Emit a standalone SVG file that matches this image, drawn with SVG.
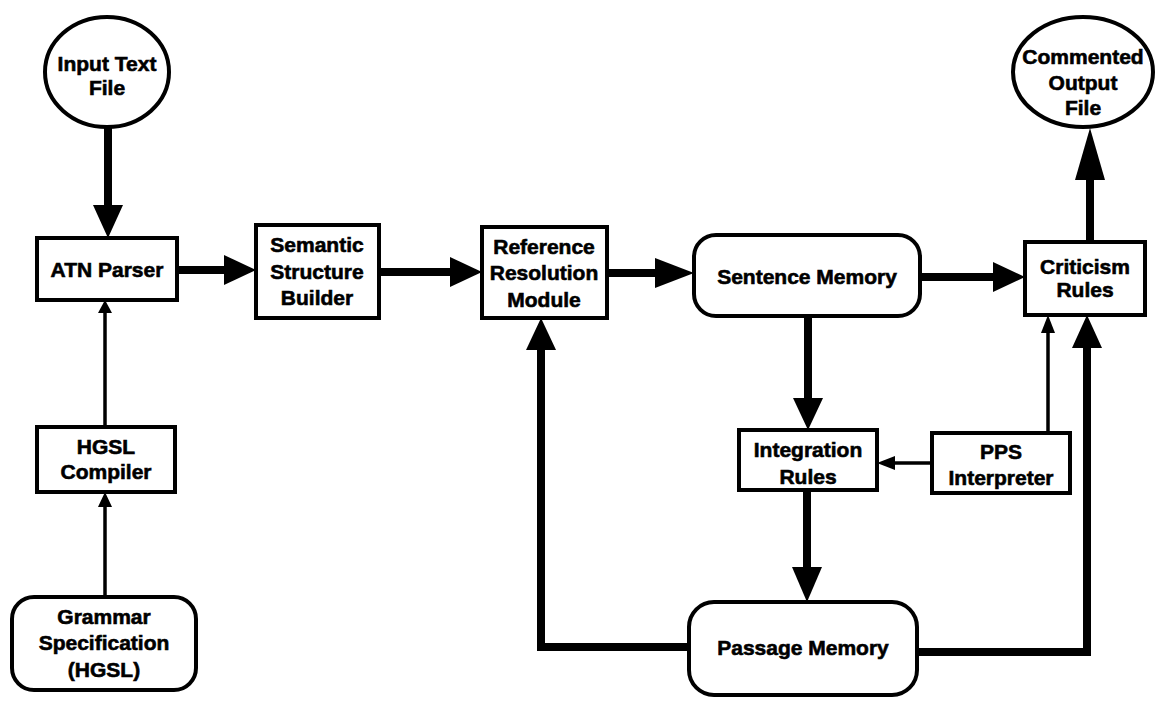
<svg xmlns="http://www.w3.org/2000/svg" width="1171" height="701" viewBox="0 0 1171 701">
<style>
.n{fill:#fff;stroke:#000;stroke-width:4}
.t{font-family:"Liberation Sans",Arial,sans-serif;font-weight:bold;font-size:21px;fill:#000;stroke:#000;stroke-width:0.6;text-anchor:middle}
.k{fill:none;stroke:#000;stroke-width:8}
.s{fill:none;stroke:#000;stroke-width:3.5}
.h{fill:#000;stroke:none}
</style>
<rect width="1171" height="701" fill="#fff"/>
<g id="connectors">
<line class="k" x1="108" y1="127" x2="108" y2="208"/>
<polygon class="h" points="93,205 123,205 108,238"/>
<line class="k" x1="177" y1="270" x2="228" y2="270"/>
<polygon class="h" points="224,255 224,285 256,270"/>
<line class="k" x1="379" y1="272" x2="453" y2="272"/>
<polygon class="h" points="450,257 450,287 482,272"/>
<line class="k" x1="607" y1="273" x2="658" y2="273"/>
<polygon class="h" points="655,258 655,288 694,273"/>
<line class="k" x1="920" y1="277" x2="996" y2="277"/>
<polygon class="h" points="993,262 993,292 1025,277"/>
<line class="k" x1="1090" y1="242" x2="1090" y2="176"/>
<polygon class="h" points="1075,180 1105,180 1090,128"/>
<line class="k" x1="808" y1="316" x2="808" y2="401"/>
<polygon class="h" points="793,398 823,398 808,430"/>
<line class="k" x1="807" y1="490" x2="807" y2="570"/>
<polygon class="h" points="792,567 822,567 807,602"/>
<polyline class="k" points="689,647 541,647 541,347"/>
<polygon class="h" points="526,350 556,350 541,318"/>
<polyline class="k" points="917,652 1087,652 1087,345"/>
<polygon class="h" points="1072,348 1102,348 1087,315"/>
<line class="s" x1="1048" y1="433" x2="1048" y2="330"/>
<polygon class="h" points="1041,333 1055,333 1048,315"/>
<line class="s" x1="932" y1="463" x2="892" y2="463"/>
<polygon class="h" points="895,456 895,470 877,463"/>
<line class="s" x1="105" y1="427" x2="105" y2="310"/>
<polygon class="h" points="98,313 112,313 105,300"/>
<line class="s" x1="105" y1="597" x2="105" y2="505"/>
<polygon class="h" points="98,507 112,507 105,492"/>
</g>
<g id="input-text-file">
<ellipse class="n" cx="107" cy="72" rx="62" ry="55"/>
<text class="t" x="107" y="71">Input Text</text>
<text class="t" x="107" y="95">File</text>
</g>
<g id="atn-parser">
<rect class="n" x="37" y="238" width="140" height="62"/>
<text class="t" x="107" y="277">ATN Parser</text>
</g>
<g id="semantic-structure-builder">
<rect class="n" x="256" y="225" width="123" height="93"/>
<text class="t" x="317" y="252">Semantic</text>
<text class="t" x="317" y="279">Structure</text>
<text class="t" x="317" y="305">Builder</text>
</g>
<g id="hgsl-compiler">
<rect class="n" x="37" y="427" width="138" height="65"/>
<text class="t" x="106" y="454">HGSL</text>
<text class="t" x="106" y="479">Compiler</text>
</g>
<g id="grammar-specification">
<rect class="n" x="12" y="597" width="184" height="93" rx="22"/>
<text class="t" x="104" y="624">Grammar</text>
<text class="t" x="104" y="650">Specification</text>
<text class="t" x="104" y="677">(HGSL)</text>
</g>
<g id="reference-resolution-module">
<rect class="n" x="482" y="227" width="125" height="91"/>
<text class="t" x="544" y="254">Reference</text>
<text class="t" x="544" y="280">Resolution</text>
<text class="t" x="544" y="307">Module</text>
</g>
<g id="sentence-memory">
<rect class="n" x="694" y="235" width="226" height="81" rx="22"/>
<text class="t" x="807" y="284">Sentence Memory</text>
</g>
<g id="criticism-rules">
<rect class="n" x="1025" y="242" width="120" height="73"/>
<text class="t" x="1085" y="274">Criticism</text>
<text class="t" x="1085" y="297">Rules</text>
</g>
<g id="commented-output-file">
<ellipse class="n" cx="1083" cy="72" rx="70" ry="55"/>
<text class="t" x="1083" y="64">Commented</text>
<text class="t" x="1083" y="90">Output</text>
<text class="t" x="1083" y="115">File</text>
</g>
<g id="integration-rules">
<rect class="n" x="739" y="430" width="138" height="60"/>
<text class="t" x="808" y="457">Integration</text>
<text class="t" x="808" y="484">Rules</text>
</g>
<g id="pps-interpreter">
<rect class="n" x="932" y="433" width="138" height="60"/>
<text class="t" x="1001" y="459">PPS</text>
<text class="t" x="1001" y="485">Interpreter</text>
</g>
<g id="passage-memory">
<rect class="n" x="689" y="602" width="228" height="93" rx="25"/>
<text class="t" x="803" y="655">Passage Memory</text>
</g>
</svg>
